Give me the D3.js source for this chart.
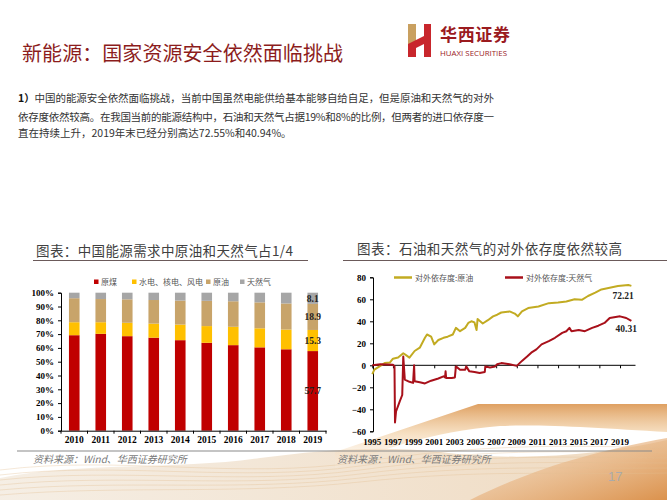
<!DOCTYPE html>
<html><head><meta charset="utf-8">
<script src="https://cdn.jsdelivr.net/npm/d3@7"></script>
<style>body{margin:0;background:#fff}svg{display:block}</style>
</head><body><svg id="c" width="667" height="500"></svg>
<script>
// ---------- data ----------
const years = ["2010","2011","2012","2013","2014","2015","2016","2017","2018","2019"];
const coal  = [69.2,70.2,68.5,67.4,65.6,63.7,62.0,60.4,59.0,57.7];
const hydro = [9.4,8.4,9.7,10.2,11.3,12.1,13.3,13.8,14.3,15.3];
const oil   = [17.4,16.8,17.0,17.1,17.4,18.3,18.5,18.8,18.9,18.9];
const gas   = [4.0,4.6,4.8,5.3,5.7,5.9,6.2,7.0,7.8,8.1];
const stackNames = ["原煤","水电、核电、风电","原油","天然气"];
const leftTicks = [0,10,20,30,40,50,60,70,80,90,100];

const oilDep = [[1995.0,-8],[1995.2,-4],[1995.7,-1],[1996.2,2],[1996.7,2.5],[1997.0,6],[1997.5,7],[1998.0,11],[1998.3,9],[1998.6,7],[1999.1,13],[1999.6,16],[2000.1,25],[2000.3,28],[2000.7,26],[2001.0,19],[2001.4,23],[2001.9,25],[2002.3,26],[2002.8,28],[2003.1,34],[2003.5,31],[2004.0,34],[2004.3,38.5],[2004.6,40],[2004.9,39],[2005.1,32],[2005.2,42],[2005.7,38],[2006.2,41],[2006.7,44.5],[2007.1,46],[2007.5,48],[2008.3,49],[2008.8,47],[2009.1,44.5],[2009.5,49],[2010.1,52],[2011.1,53.5],[2012.1,56.5],[2013.0,57],[2013.8,58],[2014.6,60],[2015.3,59.5],[2015.9,63],[2016.6,66],[2017.2,69],[2018.0,70.5],[2018.8,72],[2019.3,72.5],[2019.8,73],[2020.1,72.21]];
const gasDep = [[1995.0,0],[1995.8,1],[1997.0,0.5],[1997.15,-1],[1997.2,-52],[1997.3,-42],[1997.65,-33],[1997.9,-27],[1998.0,8],[1998.15,-13],[1998.6,-15],[1998.95,-16],[1999.05,0],[1999.1,-14.5],[1999.6,-15.5],[2000.1,-16.5],[2000.7,-14],[2001.4,-12],[2001.9,-10],[2002.05,-11],[2002.1,-5.5],[2002.15,-11.5],[2002.7,-11.5],[2003.0,-11],[2003.1,-1],[2003.5,-4],[2004.0,-4],[2004.1,-1],[2004.4,-5.5],[2004.9,-6],[2005.4,-7],[2005.9,-6],[2005.95,-1],[2006.4,-2],[2006.9,-1],[2007.1,1],[2007.5,2],[2008.3,1],[2009.0,-0.5],[2009.5,4],[2010.0,8],[2010.4,11.5],[2010.9,14.5],[2011.4,19],[2012.1,22],[2012.7,25],[2013.4,29.5],[2013.8,31],[2014.1,34],[2014.3,31],[2015.0,32],[2015.6,31],[2016.3,34],[2016.9,36],[2017.5,38.5],[2018.0,43],[2019.0,44.5],[2019.6,43],[2020.1,40.31]];
const rightYTicks = [-60,-40,-20,0,20,40,60,80];
const rightXTicks = [1995,1997,1999,2001,2003,2005,2007,2009,2011,2013,2015,2017,2019];
const lineNames = ["对外依存度:原油","对外依存度:天然气"];
const endLabels = ["72.21","40.31"];

// ---------- setup ----------
const svg = d3.select("#c");
const CJK = "'Noto Sans CJK SC','Noto Sans',sans-serif";
const SERIF = "'Liberation Serif','DejaVu Serif',serif";

// background decoration
const defs = svg.append("defs");
const g1 = defs.append("linearGradient").attr("id","gBand").attr("x1",0).attr("y1",0).attr("x2",0).attr("y2",1);
g1.append("stop").attr("offset","0%").attr("stop-color","#d98f45").attr("stop-opacity",0.85);
g1.append("stop").attr("offset","45%").attr("stop-color","#f0c997").attr("stop-opacity",0.6);
g1.append("stop").attr("offset","100%").attr("stop-color","#fbeee0").attr("stop-opacity",0.2);
const g2 = defs.append("linearGradient").attr("id","gCorner").attr("x1",0).attr("y1",0).attr("x2",1).attr("y2",1);
g2.append("stop").attr("offset","0%").attr("stop-color","#f6dcc0").attr("stop-opacity",0.5);
g2.append("stop").attr("offset","100%").attr("stop-color","#d98a40").attr("stop-opacity",0.9);
const g3 = defs.append("linearGradient").attr("id","gLeft").attr("x1",0).attr("y1",0).attr("x2",1).attr("y2",0);
g3.append("stop").attr("offset","0%").attr("stop-color","#efe3d3").attr("stop-opacity",0.6);
g3.append("stop").attr("offset","100%").attr("stop-color","#e8c9a3").attr("stop-opacity",0.7);

const deco = svg.append("g");
deco.append("path").attr("d","M0,500 L0,478 C80,462 180,470 260,458 C320,450 380,445 440,452 C520,462 600,455 667,440 L667,500 Z").attr("fill","url(#gLeft)");
deco.append("path").attr("d","M335,452 L478,404 L667,404 L667,432 C600,428 540,424 500,426 C430,432 380,450 335,468 Z").attr("fill","url(#gBand)");
deco.append("path").attr("d","M470,500 C530,470 590,452 667,438 L667,500 Z").attr("fill","url(#gCorner)");
for (let i=0;i<6;i++){
  deco.append("path").attr("d",`M0,${470+i*5} C120,${455+i*6} 240,${480+i*3} 360,${462+i*4} S560,${445+i*6} 667,${448+i*5}`)
    .attr("fill","none").attr("stroke","#e2bf93").attr("stroke-opacity",0.45).attr("stroke-width",0.8);
}

// ---------- header ----------
svg.append("text").attr("x",22).attr("y",61).attr("font-family",CJK).attr("font-size",20)
  .attr("fill","#8c1c1c").attr("textLength",321).attr("lengthAdjust","spacing").text("新能源：国家资源安全依然面临挑战");
// logo mark
const logo = svg.append("g");
logo.append("path").attr("d","M408,24 L416,24 L416,40 L424,36 L424,24 L431,24 L431,57 L424,57 L424,44 L416,48 L416,57 L408,57 Z").attr("fill","#c8262c");
logo.append("path").attr("d","M408,24 L416,24 L416,40 L408,44 Z").attr("fill","#c9a060");
svg.append("text").attr("x",440).attr("y",41).attr("font-family",CJK).attr("font-size",17).attr("font-weight","bold")
  .attr("fill","#9b1b1f").attr("textLength",70).attr("lengthAdjust","spacing").text("华西证券");
svg.append("text").attr("x",440).attr("y",56).attr("font-family","'Open Sans',sans-serif").attr("font-size",7.5)
  .attr("fill","#9b1b1f").attr("textLength",67).attr("lengthAdjust","spacingAndGlyphs").text("HUAXI SECURITIES");

// paragraph
const para = [
  {t:"中国的能源安全依然面临挑战，当前中国虽然电能供给基本能够自给自足，但是原油和天然气的对外", y:102, lead:"1）", len:476},
  {t:"依存度依然较高。在我国当前的能源结构中，石油和天然气占据19%和8%的比例，但两者的进口依存度一", y:121, len:476},
  {t:"直在持续上升，2019年末已经分别高达72.55%和40.94%。", y:137}
];
para.forEach(p=>{
  const t = svg.append("text").attr("x",18).attr("y",p.y).attr("font-family",CJK).attr("font-size",10.5).attr("fill","#333");
  if (p.len) t.attr("textLength",p.len).attr("lengthAdjust","spacing");
  if (p.lead) t.append("tspan").attr("font-weight","bold").attr("fill","#111").text(p.lead);
  t.append("tspan").text(p.t);
});

// chart titles
svg.append("text").attr("x",36).attr("y",256).attr("font-family",CJK).attr("font-size",13.5).attr("fill","#404040")
  .attr("textLength",257).attr("lengthAdjust","spacing").text("图表：中国能源需求中原油和天然气占1/4");
svg.append("line").attr("x1",33).attr("x2",308).attr("y1",260.5).attr("y2",260.5).attr("stroke","#6b5a5a").attr("stroke-width",1);
svg.append("text").attr("x",357).attr("y",254).attr("font-family",CJK).attr("font-size",13.5).attr("fill","#404040")
  .attr("textLength",265).attr("lengthAdjust","spacing").text("图表：石油和天然气的对外依存度依然较高");
svg.append("line").attr("x1",343).attr("x2",667).attr("y1",260.5).attr("y2",260.5).attr("stroke","#6b5a5a").attr("stroke-width",1);

// ---------- left stacked bar chart ----------
const colors = ["#c00000","#ffc000","#c8a46a","#a6a6a6"];
const rows = years.map((y,i)=>({year:y, s0:coal[i], s1:hydro[i], s2:oil[i], s3:gas[i]}));
const stack = d3.stack().keys(["s0","s1","s2","s3"])(rows);
const xL = d3.scaleBand().domain(years).range([61,326]).paddingInner(0.6).paddingOuter(0.3);
const yL = d3.scaleLinear().domain([0,100]).range([430.7,292.7]);
const gL = svg.append("g");
stack.forEach((layer,k)=>{
  gL.append("g").selectAll("rect").data(layer).enter().append("rect")
    .attr("x",d=>xL(d.data.year)).attr("width",xL.bandwidth())
    .attr("y",d=>yL(d[1])).attr("height",d=>yL(d[0])-yL(d[1]))
    .attr("fill",colors[k]);
});
const axLy = gL.append("g").attr("transform","translate(61,0)")
  .call(d3.axisLeft(yL).tickValues(leftTicks).tickFormat(d=>d+"%").tickSize(3).tickPadding(4));
const axLx = gL.append("g").attr("transform","translate(0,430.7)")
  .call(d3.axisBottom(xL).tickSize(0).tickPadding(6));
// tick marks between categories
const xStep = xL.step();
gL.append("g").selectAll("line").data(d3.range(years.length+1)).enter().append("line")
  .attr("x1",i=>61+i*(265/years.length)).attr("x2",i=>61+i*(265/years.length))
  .attr("y1",430.7).attr("y2",433.7).attr("stroke","#000");
[axLy,axLx].forEach(a=>{
  a.selectAll("text").attr("font-family",SERIF).attr("font-weight","bold").attr("font-size",9.5).attr("fill","#000");
  a.selectAll("path,line").attr("stroke","#000");
});
axLy.selectAll("text").attr("font-size",9);
// 2019 data labels
const last = rows.length-1;
stack.forEach(layer=>{
  const d = layer[last];
  const v = d[1]-d[0];
  gL.append("text").attr("x",xL(d.data.year)+xL.bandwidth()/2).attr("y",yL((d[0]+d[1])/2)+3.5)
    .attr("text-anchor","middle").attr("font-family",SERIF).attr("font-weight","bold").attr("font-size",9.5)
    .attr("fill","#222").text(v.toFixed(1));
});
// legend
const legX = [94,132,206,240];
stackNames.forEach((n,i)=>{
  gL.append("rect").attr("x",legX[i]).attr("y",279.5).attr("width",4.5).attr("height",4.5).attr("fill",colors[i]);
  gL.append("text").attr("x",legX[i]+7).attr("y",285).attr("font-family",CJK).attr("font-size",8).attr("fill","#555").text(n);
});

// ---------- right line chart ----------
const xR = d3.scaleLinear().domain([1995,2020.5]).range([372.3,635.5]);
const yR = d3.scaleLinear().domain([-60,80]).range([431.3,277.3]);
const gR = svg.append("g");
const axRy = gR.append("g").attr("transform","translate(373,0)")
  .call(d3.axisLeft(yR).tickValues(rightYTicks).tickSize(3).tickPadding(4));
axRy.selectAll("text").attr("font-family",SERIF).attr("font-weight","bold").attr("font-size",9).attr("fill","#000");
axRy.selectAll("path,line").attr("stroke","#000");
// zero line with ticks
const axRx = gR.append("g").attr("transform",`translate(0,${yR(0)})`)
  .call(d3.axisBottom(xR).tickValues(rightXTicks).tickSize(3).tickFormat(""));
axRx.selectAll("path,line").attr("stroke","#000");
axRx.select(".domain").attr("d",`M${xR(1995)},0H${xR(2020.5)}`);
// bottom year labels
gR.append("g").selectAll("text").data(rightXTicks).enter().append("text")
  .attr("x",d=>xR(d)).attr("y",445).attr("text-anchor","middle")
  .attr("font-family",SERIF).attr("font-weight","bold").attr("font-size",9).attr("fill","#000").text(d=>d);
const lineGen = d3.line().x(d=>xR(d[0])).y(d=>yR(d[1]));
const lineColors = ["#c2ab22","#a8101a"];
gR.append("path").datum(oilDep).attr("d",lineGen).attr("fill","none").attr("stroke",lineColors[0]).attr("stroke-width",2).attr("stroke-linejoin","round");
gR.append("path").datum(gasDep).attr("d",lineGen).attr("fill","none").attr("stroke",lineColors[1]).attr("stroke-width",2).attr("stroke-linejoin","round");
// end labels
gR.append("text").attr("x",xR(2019.3)).attr("y",yR(72.21)+13.5).attr("text-anchor","middle")
  .attr("font-family",SERIF).attr("font-weight","bold").attr("font-size",9.5).attr("fill","#222").text(endLabels[0]);
gR.append("text").attr("x",xR(2019.6)).attr("y",yR(40.31)+11).attr("text-anchor","middle")
  .attr("font-family",SERIF).attr("font-weight","bold").attr("font-size",9.5).attr("fill","#222").text(endLabels[1]);
// legend
const lx = [394,505];
lineNames.forEach((n,i)=>{
  gR.append("line").attr("x1",lx[i]).attr("x2",lx[i]+18).attr("y1",277.5).attr("y2",277.5).attr("stroke",lineColors[i]).attr("stroke-width",2.5);
  gR.append("text").attr("x",lx[i]+21).attr("y",280.5).attr("font-family",CJK).attr("font-size",8).attr("fill","#555").text(n);
});

// ---------- footer ----------
svg.append("line").attr("x1",17).attr("x2",652).attr("y1",451).attr("y2",451).attr("stroke","#8a8a8a").attr("stroke-width",1.2);
svg.append("text").attr("x",33).attr("y",463).attr("font-family",CJK).attr("font-size",10).attr("font-style","italic").attr("fill","#7a7a7a").text("资料来源：Wind、华西证券研究所");
svg.append("text").attr("x",337).attr("y",463).attr("font-family",CJK).attr("font-size",10).attr("font-style","italic").attr("fill","#7a7a7a").text("资料来源：Wind、华西证券研究所");
svg.append("text").attr("x",608).attr("y",481).attr("font-family","'Liberation Sans',sans-serif").attr("font-size",13).attr("fill","#aaa").text("17");
</script></body></html>
